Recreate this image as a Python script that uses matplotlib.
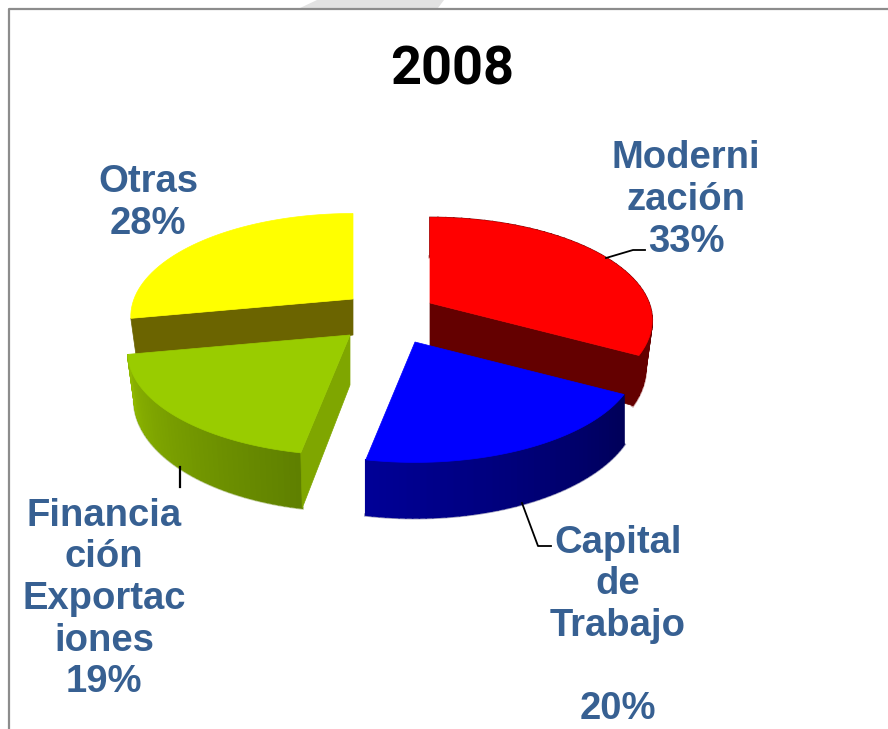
import numpy as np
import matplotlib
matplotlib.use("Agg")
import matplotlib.pyplot as plt
from matplotlib.colors import to_rgb
from matplotlib.patches import Polygon

# pie data, clockwise from 12 o'clock
labels = ["Moderni\nzación\n33%", "Capital\nde\nTrabajo\n\n20%", "Financia\nción\nExportac\niones\n19%", "Otras\n28%"]
values = [33, 20, 19, 28]
top_colors = ["#ff0000", "#0000ff", "#99cc00", "#ffff00"]
cut_colors = ["#640000", "#000064", "#7fa600", "#6b6400"]
wall_start = ["#7a0000", "#000058", "#5f8000", "#6b6400"]
wall_end = ["#640000", "#000096", "#8fb800", "#6b6400"]

# where the exploded slices sit, in pixels
apex_x = [430, 415, 350, 353]
apex_y = [303, 342, 335, 299]
label_x = [686, 618, 104, 148]
label_y = [200, 626, 599, 203]
bottom_scale = [0.97, 1.0, 0.97, 0.97]

R = 219
R_Y = 100
PERSP = 5.9
DEPTH = 46
TEXT_BLUE = "#376092"


def project(angle, scale=1.0):
    # angle in degrees clockwise from 12 o'clock, front of the disc looks bigger
    u = np.sin(np.radians(angle))
    v = -np.cos(np.radians(angle))
    s = PERSP / (PERSP - v)
    return u * s * R * scale, v * s * R_Y * scale, s


fig = plt.figure(figsize=(8.88, 7.29), dpi=100)
ax = fig.add_axes([0, 0, 1, 1])
ax.set_xlim(0, 888)
ax.set_ylim(729, 0)
ax.axis("off")

# frame and the grey scrap above it
ax.plot([9, 9, 888], [729, 9, 9], color="#8c8c8c", lw=1.6, zorder=1)
ax.add_patch(Polygon([[300, 8], [317, 0], [444, 0], [438, 8]], fc="#e2e2e2", ec="none", zorder=0))

ax.text(452, 70, "2008", family="Roboto", fontweight="bold", fontsize=39, ha="center", va="center", color="black")

edges = np.cumsum([0] + values) / sum(values) * 360
for i in [3, 0, 2, 1]:
    a0, a1 = edges[i], edges[i + 1]
    cx, cy = apex_x[i], apex_y[i]
    angles = np.linspace(a0, a1, 50)
    tx, ty, ts = project(angles)
    bx, by, bs = project(angles, bottom_scale[i])
    bx = cx + bx
    by = cy + ty + DEPTH * ts
    tx = cx + tx
    ty = cy + ty

    # outer wall, drawn in thin strips for the shading
    if i != 3:
        c0 = np.array(to_rgb(wall_start[i]))
        c1 = np.array(to_rgb(wall_end[i]))
        ax.plot(bx, by, color=c0, alpha=0.4, lw=2.4, zorder=1.9)
        for k in range(len(angles) - 1):
            col = c0 + (c1 - c0) * k / (len(angles) - 2)
            ax.add_patch(Polygon([[tx[k], ty[k]], [tx[k + 1], ty[k + 1]], [bx[k + 1], by[k + 1]], [bx[k], by[k]]],
                                 fc=col, ec=col, lw=1.2, zorder=2 + i * 0.1))

    # cut face that can be seen from the front
    if i == 0:
        ax.add_patch(Polygon([[cx, cy], [tx[-1], ty[-1]], [bx[-1], by[-1]], [cx, cy + DEPTH]],
                             fc=cut_colors[i], ec=cut_colors[i], lw=0.5, zorder=2.05))
    if i == 2:
        ax.add_patch(Polygon([[cx, cy], [tx[0], ty[0]], [bx[0], by[0]], [cx, cy + 50]],
                             fc=cut_colors[i], ec=cut_colors[i], lw=0.5, zorder=2.25))
    if i == 3:
        ax.add_patch(Polygon([[cx, cy], [tx[0], ty[0]], [bx[0], by[0]], [cx, cy + 36]],
                             fc=cut_colors[i], ec=cut_colors[i], lw=0.5, zorder=1.5))

    top = np.column_stack([np.r_[cx, tx], np.r_[cy, ty]])
    z_top = {0: 2.1, 1: 2.6, 2: 2.3, 3: 1.6}[i]
    ax.add_patch(Polygon(top, fc=top_colors[i], ec=top_colors[i], lw=0.5, zorder=z_top))

# leader lines
ax.plot([606, 633, 645], [258, 250, 250], color="black", lw=1.3, zorder=4)
ax.plot([522, 538, 551], [503, 546, 546], color="black", lw=1.3, zorder=4)
ax.plot([179.5, 179.5], [467, 487], color="black", lw=1.6, zorder=4)

for i in range(len(labels)):
    ax.text(label_x[i], label_y[i], labels[i], family="Liberation Sans", fontweight="bold", fontsize=27.5,
            color=TEXT_BLUE, ha="center", va="center", linespacing=1.2, zorder=5)

fig.savefig("out.png", dpi=100, facecolor="white")
